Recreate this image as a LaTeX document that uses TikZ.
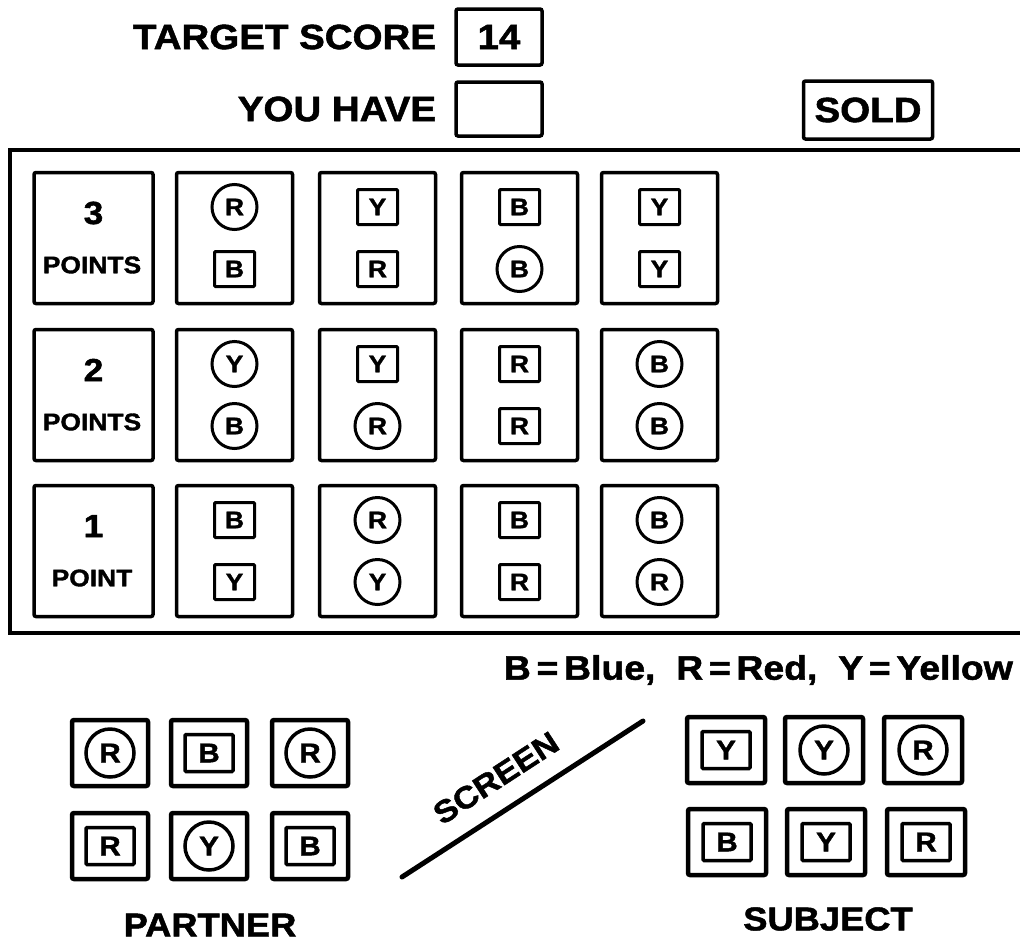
\documentclass[tikz,border=0pt]{standalone}
\usepackage{fontspec}
\setmainfont{Liberation Sans}[FakeStretch=1.1, BoldFeatures={FakeBold=1.5}]
\usetikzlibrary{positioning}
\newcommand{\fsz}[1]{\fontsize{#1}{#1}\selectfont\bfseries}

\tikzset{
  bigtxt/.style={font=\fsz{35}, inner sep=0pt},
  scorebox/.style={draw, line width=3.5, rounded corners=2, minimum width=86, minimum height=56, inner sep=0pt, font=\fsz{35}},
  cellbox/.style={draw, line width=3.5, rounded corners=2, minimum width=116, minimum height=131, inner sep=0pt},
  tokcirc/.style={draw, circle, line width=3, minimum size=45, inner sep=0pt, font=\fsz{24}},
  toksq/.style={draw, rectangle, line width=3, rounded corners=1, minimum width=40, minimum height=35, inner sep=0pt, font=\fsz{24}},
  handbox/.style={draw, line width=4.5, rounded corners=2, minimum width=76, minimum height=66, inner sep=0pt},
  handcirc/.style={tokcirc, line width=3.5, minimum size=48, font=\fsz{27}},
  handsq/.style={toksq, line width=3.5, minimum width=48, minimum height=37, font=\fsz{27}}
}

\begin{document}
\begin{tikzpicture}[x=1pt,y=-1pt]
  \useasboundingbox (0,0) rectangle (1020,943);

  % score boxes at the top
  \node[scorebox] (score) at (499,37) {14};
  \node[scorebox, minimum height=54] (have) at (499,109) {};
  \node[bigtxt, left=18pt of score] (target) {TARGET SCORE};
  \node[bigtxt, left=18pt of have] (youhave) {YOU HAVE};
  \node[scorebox, minimum width=129, minimum height=58] (sold) at (868,110) {SOLD};

  % board frame, open at the right
  \draw[line width=4] (1020,150) -- (10,150) -- (10,633) -- (1020,633);

  % rows of cards
  \foreach \r/\y/\n/\w in {1/238/3/POINTS,2/395/2/POINTS,3/551/1/POINT} {
    \node[cellbox, minimum width=119] (lab\r) at (93.5,\y) {};
    \node[font=\fsz{32}, inner sep=0pt] (num\r) at (93.5,\y-25) {\n};
    \node[font=\fsz{24}, inner sep=0pt] (word\r) at (92,\y+27) {\w};
    \foreach \c/\x in {1/234.5,2/377.5,3/519.5,4/659.5}
      \node[cellbox] (cell\r\c) at (\x,\y) {};
  }

  % tokens on the cards
  \foreach \r/\c/\ta/\la/\tb/\lb in {
      1/1/tokcirc/R/toksq/B, 1/2/toksq/Y/toksq/R, 1/3/toksq/B/tokcirc/B, 1/4/toksq/Y/toksq/Y,
      2/1/tokcirc/Y/tokcirc/B, 2/2/toksq/Y/tokcirc/R, 2/3/toksq/R/toksq/R, 2/4/tokcirc/B/tokcirc/B,
      3/1/toksq/B/toksq/Y, 3/2/tokcirc/R/tokcirc/Y, 3/3/toksq/B/toksq/R, 3/4/tokcirc/B/tokcirc/R} {
    \node[\ta] (tok\r\c a) at ([yshift=31pt]cell\r\c) {\la};
    \node[\tb] (tok\r\c b) at ([yshift=-31pt]cell\r\c) {\lb};
  }

  \node[bigtxt, font=\fsz{34}, anchor=east] (legend) at (1013,670) {B\,=\,Blue,\ \ R\,=\,Red,\ \ Y\,=\,Yellow};

  % partner's and subject's hands
  \foreach \i/\x/\y/\t/\l in {
      1/110/753/handcirc/R, 2/209/753/handsq/B, 3/310/753/handcirc/R,
      4/110/846/handsq/R, 5/209/846/handcirc/Y, 6/310/846/handsq/B} {
    \node[handbox] (pbox\i) at (\x,\y) {};
    \node[\t] (ptok\i) at (pbox\i) {\l};
  }
  \foreach \i/\x/\y/\t/\l in {
      1/726/750/handsq/Y, 2/824/750/handcirc/Y, 3/923/750/handcirc/R,
      4/727/842/handsq/B, 5/826/842/handsq/Y, 6/926/842/handsq/R} {
    \node[handbox, minimum width=78] (sbox\i) at (\x,\y) {};
    \node[\t] (stok\i) at (sbox\i) {\l};
  }
  \node[bigtxt, font=\fsz{33}] (partner) at (210,925) {PARTNER};
  \node[bigtxt, font=\fsz{33}] (subject) at (828,919) {SUBJECT};

  % the screen between them
  \coordinate (scrA) at (402,877);
  \coordinate (scrB) at (643,721);
  \draw[line width=5, line cap=round] (scrA) -- (scrB);
  \node[bigtxt, font=\fsz{31}, rotate=33] (screen) at (496,778) {SCREEN};
\end{tikzpicture}
\end{document}
